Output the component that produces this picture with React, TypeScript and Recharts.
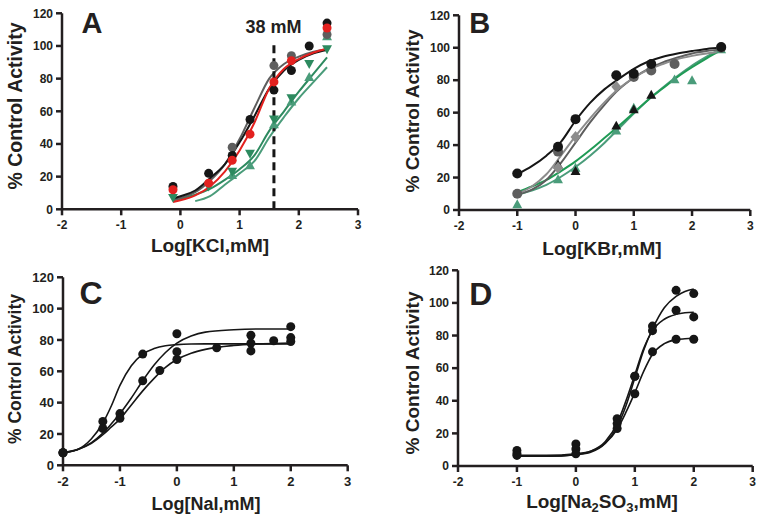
import React from 'react';
import { ComposedChart, Line, Scatter, XAxis, YAxis, ReferenceLine } from 'recharts';

const FONT = '"Liberation Sans", Arial, Helvetica, sans-serif';
const INK = '#231f20';

const X_TICKS = [-2, -1, 0, 1, 2, 3];
const Y_TICKS = [0, 20, 40, 60, 80, 100, 120];

// ---------- Panel A (KCl) ----------
const A_MX = [-0.125, 0.477, 0.875, 1.176, 1.58, 1.875, 2.176, 2.477];
const A_BLACK = [14, 22, 33, 55, 73, 85, 100, 114];
const A_GREY = [null, null, 38, null, 88, 94, null, 107];
const A_RED = [12, 16, 30, 46, 78, 91, null, 111];
const A_GREEN_DN = [7, 14, 23, 34, 55, 68, 89, 98];
const A_GREEN_UP = [null, null, 21, 27, 52, 66, 81, 106];

const A_CX = [-0.125, 0, 0.25, 0.5, 0.75, 1.0, 1.25, 1.5, 1.75, 2.0, 2.25, 2.477];
const A_FIT_BLACK = [6.5, 8, 11.5, 19, 27.5, 41, 57, 74, 85, 91.5, 95.5, 97.5];
const A_FIT_GREY = [5.5, 7, 10.5, 17.5, 27.5, 43, 62, 80, 89, 93.5, 96.5, 98];
const A_FIT_RED = [4.5, 5.5, 8.5, 14, 23, 36, 53, 74, 86, 92, 96, 98.5];
const A_FIT_GREEN1 = [5.5, 6.5, 9, 12.5, 18, 24.5, 33, 48, 60, 72, 83, 93];
const A_CX2 = [0.25, 0.5, 0.75, 1.0, 1.25, 1.5, 1.75, 2.0, 2.25, 2.477];
const A_FIT_GREEN2 = [5, 8, 15, 22, 29.5, 44, 56.5, 68, 78, 87];
const A_REF_X = 1.58; // log10(38 mM)
const A_REF_TOP = 103;

// ---------- Panel B (KBr) ----------
const B_MX = [-1, -0.3, 0, 0.7, 1, 1.3, 1.7, 2, 2.5];
const B_BLACK = [22.5, 39, 56, 83, 84, 90, null, null, 100.5];
const B_GREY = [10, 36, null, null, 82, 86, 90, null, 100];
const B_DIAMOND = [null, 26, 45, 76, null, null, null, null, null];
const B_TRI_BLACK = [null, 28, 24, 52, 62, 71, null, null, null];
const B_TRI_GREEN = [3.5, 19, 26, 49, 63, null, 80.5, 80, 99];

const B_CX = [-1, -0.75, -0.5, -0.25, 0, 0.25, 0.5, 0.75, 1, 1.25, 1.5, 1.75, 2, 2.25, 2.5];
const B_FIT_BLACK = [22, 27, 33.5, 42, 55, 66, 74.5, 81, 87, 91.5, 94.5, 96.5, 98, 99.3, 100];
const B_FIT_GREY1 = [10, 14.5, 22, 33.5, 45.5, 56.5, 66.5, 75, 81.5, 86.5, 90, 93, 95, 96.5, 97.5];
const B_FIT_GREY2 = [9.5, 12.5, 18.5, 29, 41.5, 54, 65, 74.5, 81.5, 87, 91, 94, 96.5, 98, 99];
const B_FIT_GREEN1 = [11, 14.5, 18.5, 24, 30, 37, 44.5, 52, 60, 68, 75, 82, 88, 93.5, 98.5];
const B_FIT_GREEN2 = [9.5, 12, 15.5, 20.5, 26.5, 33.5, 41.5, 50.5, 59.5, 68, 75.5, 82.5, 89, 94.5, 99.5];

// ---------- Panel C (NaI) ----------
const C_MX = [-2, -1.3, -1, -0.6, -0.3, 0, 0.7, 1.3, 1.7, 2];
const C_S1 = [8, 28, null, 71, null, 72.5, null, 78, null, 79];
const C_S2 = [8, 23.5, 33, 54, null, 84, null, 83, null, 88.5];
const C_S3 = [8, null, 30, null, 60.5, 67.5, 75, 73, 79.5, 81.5];

const C_CX = [-2, -1.75, -1.5, -1.3, -1.15, -1, -0.8, -0.6, -0.4, -0.2, 0, 0.25, 0.5, 1, 1.5, 2];
const C_FIT1 = [8, 10, 17, 27, 38, 51, 63.5, 71, 74.5, 76.3, 77, 77.4, 77.5, 77.5, 77.5, 77.5];
const C_FIT2 = [8, 10, 14.5, 20.5, 26.5, 33, 43, 54, 64, 72, 78, 82.5, 85, 86.5, 87, 87];
const C_FIT3 = [8, 10, 14, 19.5, 24.5, 29.5, 38.5, 47.5, 55.5, 62.5, 67.5, 71.5, 74, 76.5, 77.5, 78];

// ---------- Panel D (Na2SO3) ----------
const D_MX = [-1, 0, 0.7, 1, 1.3, 1.7, 2];
const D_S1 = [9.5, 13.5, 29, 55, 85.8, 107.7, 105.7];
const D_S2 = [7.5, 10.5, 26, 55, 83, 95.5, 91.4];
const D_S3 = [6.5, 7.5, 23, 44.3, 70, 77.7, 77.7];

const D_CX = [-1, -0.5, 0, 0.25, 0.5, 0.7, 0.85, 1.0, 1.15, 1.3, 1.5, 1.7, 1.85, 2.0];
const D_FIT1 = [6, 6, 7, 8.5, 14, 24, 37, 54, 71, 84, 97, 104, 107, 108.5];
const D_FIT2 = [6, 6, 7, 9, 15, 26, 40, 56, 72, 83, 90, 93, 94, 94.3];
const D_FIT3 = [6.5, 6.5, 7.5, 9, 14, 22.5, 33, 45, 58, 68.5, 75, 77.5, 78, 78.3];

// ---------- helpers ----------
type Pt = { x: number; y: number };
const pts = (xs: number[], ys: (number | null)[]): Pt[] =>
  xs.map((x, i) => ({ x, y: ys[i] as number })).filter((p) => p.y !== null && p.y !== undefined);

type Kind = 'circle' | 'triUp' | 'triDown' | 'diamond';

const makeShape = (kind: Kind, color: string, s: number) => (p: any) => {
  const cx = p.cx;
  const cy = p.cy;
  if (cx == null || cy == null) return <g />;
  if (kind === 'circle') return <circle cx={cx} cy={cy} r={s} fill={color} />;
  if (kind === 'triUp') {
    const h = s * 1.1;
    return <polygon points={`${cx},${cy - h} ${cx - h},${cy + h * 0.8} ${cx + h},${cy + h * 0.8}`} fill={color} />;
  }
  if (kind === 'triDown') {
    const h = s * 1.1;
    return <polygon points={`${cx},${cy + h} ${cx - h},${cy - h * 0.8} ${cx + h},${cy - h * 0.8}`} fill={color} />;
  }
  return <polygon points={`${cx},${cy - s * 1.2} ${cx + s},${cy} ${cx},${cy + s * 1.2} ${cx - s},${cy}`} fill={color} />;
};

type Curve = { data: Pt[]; color: string; w: number };
type Mark = { data: Pt[]; color: string; kind: Kind; size: number };
type Box = { left: number; top: number; width: number; height: number };
type Plot = { l: number; r: number; t: number; b: number };

function Panel(props: {
  box: Box;
  plot: Plot;
  tickFont: number;
  curves: Curve[];
  marks: Mark[];
  children?: React.ReactNode;
}) {
  const { box, plot, tickFont, curves, marks, children } = props;
  const xAxisH = 30;
  const margin = {
    top: plot.t - box.top,
    left: 0,
    right: box.left + box.width - plot.r,
    bottom: box.top + box.height - plot.b - xAxisH,
  };
  const axisStyle = { stroke: INK, strokeWidth: 2.5 };
  const tickStyle = { fill: INK, fontSize: tickFont, fontWeight: 700, fontFamily: FONT };
  return (
    <div style={{ position: 'absolute', left: box.left, top: box.top, width: box.width, height: box.height }}>
      <ComposedChart width={box.width} height={box.height} margin={margin}>
        <XAxis
          type="number"
          dataKey="x"
          domain={[-2, 3]}
          ticks={X_TICKS}
          interval={0}
          height={xAxisH}
          tickSize={6}
          tickMargin={5}
          axisLine={axisStyle}
          tickLine={axisStyle}
          tick={tickStyle}
        />
        <YAxis
          type="number"
          dataKey="y"
          domain={[0, 120]}
          ticks={Y_TICKS}
          interval={0}
          width={plot.l - box.left}
          tickSize={6}
          tickMargin={3}
          axisLine={axisStyle}
          tickLine={axisStyle}
          tick={tickStyle}
        />
        {marks.map((m, i) => (
          <Scatter
            key={'m' + i}
            data={m.data}
            dataKey="y"
            shape={makeShape(m.kind, m.color, m.size)}
            isAnimationActive={false}
          />
        ))}
        {curves.map((c, i) => (
          <Line
            key={'c' + i}
            data={c.data}
            dataKey="y"
            type="monotone"
            stroke={c.color}
            strokeWidth={c.w}
            dot={false}
            activeDot={false}
            isAnimationActive={false}
          />
        ))}
        {children}
      </ComposedChart>
    </div>
  );
}

const BLACK = '#161616';
const GREY = '#5e5e5e';
const LGREY = '#8c8c8c';
const RED = '#e3211f';
const GREEN = '#2d8a5f';
const GREEN2 = '#4a9c7a';
const BGREEN = '#1f9b55';

export default function App() {
  const titleStyle: React.CSSProperties = { fontFamily: FONT, fontWeight: 700, fill: INK };
  return (
    <div style={{ position: 'absolute', left: 0, top: 0, width: 764, height: 525, background: '#fff', overflow: 'hidden' }}>
      <Panel
        box={{ left: 0, top: 0, width: 382, height: 262 }}
        plot={{ l: 62, r: 358, t: 13.3, b: 209.3 }}
        tickFont={12}
        marks={[
          { data: pts(A_MX, A_GREEN_UP), color: GREEN2, kind: 'triUp', size: 4.5 },
          { data: pts(A_MX, A_GREEN_DN), color: GREEN, kind: 'triDown', size: 4.5 },
          { data: pts(A_MX, A_GREY), color: GREY, kind: 'circle', size: 4.5 },
          { data: pts(A_MX, A_BLACK), color: BLACK, kind: 'circle', size: 4.5 },
          { data: pts(A_MX, A_RED), color: RED, kind: 'circle', size: 4.5 },
        ]}
        curves={[
          { data: pts(A_CX2, A_FIT_GREEN2), color: GREEN2, w: 2 },
          { data: pts(A_CX, A_FIT_GREEN1), color: GREEN, w: 2 },
          { data: pts(A_CX, A_FIT_GREY), color: GREY, w: 2 },
          { data: pts(A_CX, A_FIT_BLACK), color: BLACK, w: 2 },
          { data: pts(A_CX, A_FIT_RED), color: RED, w: 2 },
        ]}
      >
        <ReferenceLine
          segment={[{ x: A_REF_X, y: 0 }, { x: A_REF_X, y: A_REF_TOP }]}
          stroke={BLACK}
          strokeWidth={3}
          strokeDasharray="8 5"
        />
      </Panel>

      <Panel
        box={{ left: 382, top: 0, width: 382, height: 262 }}
        plot={{ l: 459, r: 750.3, t: 15.3, b: 210 }}
        tickFont={12}
        marks={[
          { data: pts(B_MX, B_TRI_GREEN), color: GREEN2, kind: 'triUp', size: 4.5 },
          { data: pts(B_MX, B_TRI_BLACK), color: BLACK, kind: 'triUp', size: 4.5 },
          { data: pts(B_MX, B_DIAMOND), color: LGREY, kind: 'diamond', size: 5 },
          { data: pts(B_MX, B_GREY), color: GREY, kind: 'circle', size: 5 },
          { data: pts(B_MX, B_BLACK), color: BLACK, kind: 'circle', size: 5 },
        ]}
        curves={[
          { data: pts(B_CX, B_FIT_GREEN2), color: GREEN2, w: 2 },
          { data: pts(B_CX, B_FIT_GREEN1), color: BGREEN, w: 2 },
          { data: pts(B_CX, B_FIT_GREY2), color: GREY, w: 2 },
          { data: pts(B_CX, B_FIT_GREY1), color: LGREY, w: 2 },
          { data: pts(B_CX, B_FIT_BLACK), color: BLACK, w: 2 },
        ]}
      />

      <Panel
        box={{ left: 0, top: 262, width: 382, height: 263 }}
        plot={{ l: 63, r: 347.7, t: 277.3, b: 465.3 }}
        tickFont={13}
        marks={[
          { data: pts(C_MX, C_S1), color: BLACK, kind: 'circle', size: 4.5 },
          { data: pts(C_MX, C_S2), color: BLACK, kind: 'circle', size: 4.5 },
          { data: pts(C_MX, C_S3), color: BLACK, kind: 'circle', size: 4.5 },
        ]}
        curves={[
          { data: pts(C_CX, C_FIT1), color: BLACK, w: 1.6 },
          { data: pts(C_CX, C_FIT2), color: BLACK, w: 1.6 },
          { data: pts(C_CX, C_FIT3), color: BLACK, w: 1.6 },
        ]}
      />

      <Panel
        box={{ left: 382, top: 262, width: 382, height: 263 }}
        plot={{ l: 458, r: 752.7, t: 270.3, b: 466 }}
        tickFont={12}
        marks={[
          { data: pts(D_MX, D_S1), color: BLACK, kind: 'circle', size: 4.5 },
          { data: pts(D_MX, D_S2), color: BLACK, kind: 'circle', size: 4.5 },
          { data: pts(D_MX, D_S3), color: BLACK, kind: 'circle', size: 4.5 },
        ]}
        curves={[
          { data: pts(D_CX, D_FIT1), color: BLACK, w: 1.6 },
          { data: pts(D_CX, D_FIT2), color: BLACK, w: 1.6 },
          { data: pts(D_CX, D_FIT3), color: BLACK, w: 1.6 },
        ]}
      />

      <svg width={764} height={525} style={{ position: 'absolute', left: 0, top: 0, pointerEvents: 'none' }}>
        {/* Panel letters */}
        <text x={81.5} y={33.3} fontSize={29} style={titleStyle}>A</text>
        <text x={469.3} y={33.3} fontSize={29} style={titleStyle}>B</text>
        <text x={79.5} y={303.5} fontSize={32} style={titleStyle}>C</text>
        <text x={469.3} y={305.3} fontSize={32} style={titleStyle}>D</text>
        <text x={273.5} y={33} fontSize={18} textAnchor="middle" style={titleStyle}>38 mM</text>

        {/* X titles */}
        <text x={210} y={252} fontSize={19} textAnchor="middle" style={titleStyle}>Log[KCl,mM]</text>
        <text x={602} y={255} fontSize={19} textAnchor="middle" style={titleStyle}>Log[KBr,mM]</text>
        <text x={206} y={510} fontSize={18} textAnchor="middle" style={titleStyle}>Log[NaI,mM]</text>
        <text x={602} y={508} fontSize={19} textAnchor="middle" style={titleStyle}>
          Log[Na<tspan fontSize={13} dy={4}>2</tspan><tspan dy={-4}>SO</tspan><tspan fontSize={13} dy={4}>3</tspan><tspan dy={-4}>,mM]</tspan>
        </text>

        {/* Y titles */}
        <text transform="translate(22,106) rotate(-90)" fontSize={19.5} textAnchor="middle" style={titleStyle}>% Control Activity</text>
        <text transform="translate(419,111) rotate(-90)" fontSize={19} textAnchor="middle" style={titleStyle}>% Control Activity</text>
        <text transform="translate(21,369) rotate(-90)" fontSize={17.5} textAnchor="middle" style={titleStyle}>% Control Activity</text>
        <text transform="translate(419,373) rotate(-90)" fontSize={19} textAnchor="middle" style={titleStyle}>% Control Activity</text>
      </svg>
    </div>
  );
}
